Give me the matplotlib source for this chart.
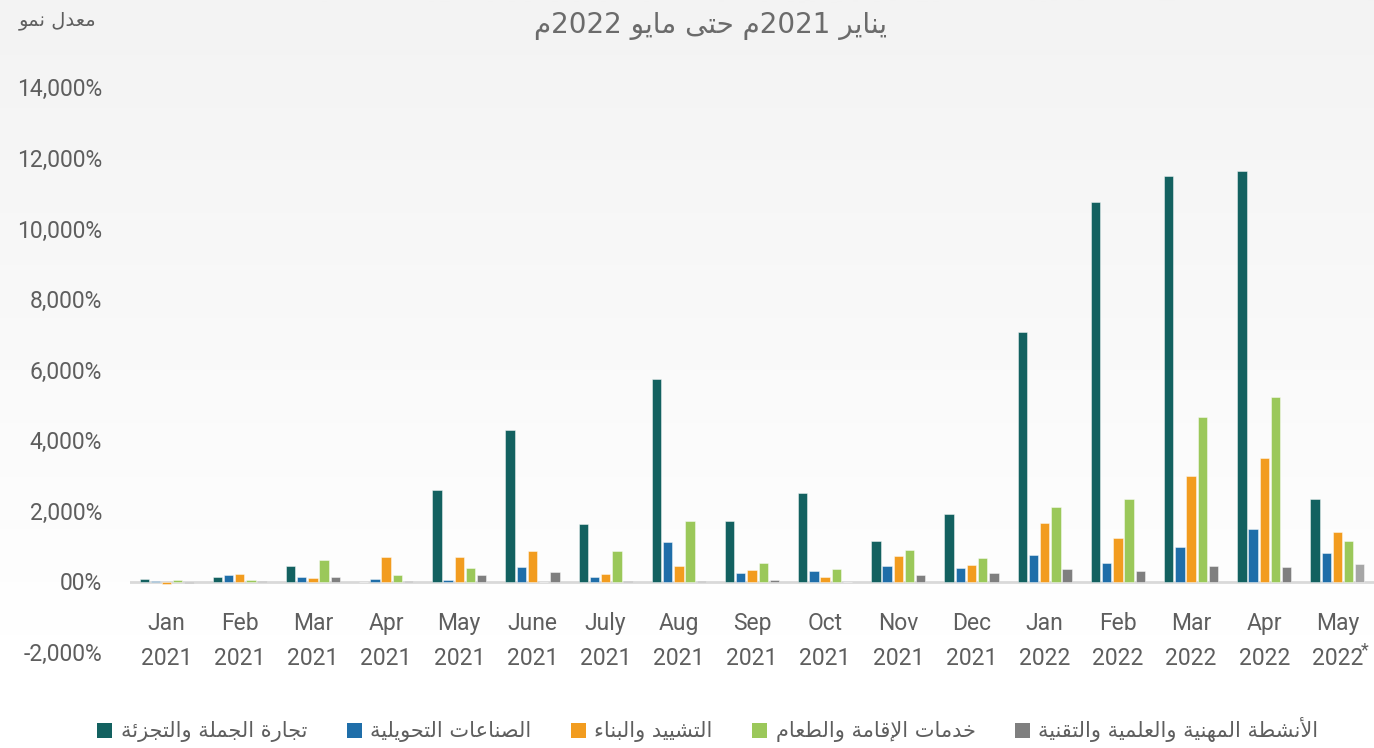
import re
import numpy as np
import matplotlib
matplotlib.use("Agg")
import matplotlib.pyplot as plt
from matplotlib.colors import LinearSegmentedColormap

# ---------------- data ----------------
months = ["Jan", "Feb", "Mar", "Apr", "May", "June", "July", "Aug", "Sep", "Oct",
          "Nov", "Dec", "Jan", "Feb", "Mar", "Apr", "May"]
years = ["2021"] * 12 + ["2022"] * 5

series_names = [
    "تجارة الجملة والتجزئة",
    "الصناعات التحويلية",
    "التشييد والبناء",
    "خدمات الإقامة والطعام",
    "الأنشطة المهنية والعلمية والتقنية",
]
trade = [70, 140, 450, 0, 2600, 4300, 1615, 5745, 1720, 2500, 1160, 1920, 7076, 10742, 11496, 11629, 2325]
manufacturing = [15, 190, 130, 75, 55, 400, 120, 1105, 235, 310, 425, 370, 737, 530, 985, 1500, 820]
construction = [-70, 220, 85, 690, 690, 870, 225, 435, 330, 140, 735, 480, 1670, 1220, 3000, 3485, 1410]
hospitality = [30, 50, 595, 190, 390, 0, 850, 1720, 510, 360, 887, 660, 2115, 2350, 4650, 5235, 1135]
professional = [-40, 10, 140, 20, 190, 255, 15, 15, 55, 0, 180, 245, 340, 310, 425, 415, 490]

title_text = "يناير 2021م حتى مايو 2022م"
ylabel_text = "معدل نمو"
ytick_vals = [-2000, 0, 2000, 4000, 6000, 8000, 10000, 12000, 14000]
ytick_labels = ["-2,000%", "00%", "2,000%", "4,000%", "6,000%", "8,000%", "10,000%", "12,000%", "14,000%"]

colors = ["#136160", "#1f6ea9", "#f29c1f", "#9bc85a", "#7f7f7f"]


# ---------------- minimal Arabic shaping (presentation forms + visual order) ----------------
def _build_table():
    two = {0x622, 0x623, 0x624, 0x625, 0x627, 0x629, 0x62F, 0x630, 0x631, 0x632, 0x648, 0x649}
    seq = list(range(0x621, 0x63B)) + list(range(0x641, 0x64B))
    base = 0xFE80
    table = {}
    for cp in seq:
        n = 1 if cp == 0x621 else (2 if cp in two else 4)
        table[chr(cp)] = (base, n)
        base += n
    return table


_T = _build_table()
_LA = {"آ": 0xFEF5, "أ": 0xFEF7, "إ": 0xFEF9, "ا": 0xFEFB}


def ar(text):
    chars = list(text)
    items = []
    i = 0
    while i < len(chars):
        c = chars[i]
        if c == "ل" and i + 1 < len(chars) and chars[i + 1] in _LA:
            items.append(("LA", chars[i + 1]))
            i += 2
        else:
            items.append(("C", c))
            i += 1

    def dual(it):
        return it[0] == "C" and it[1] in _T and _T[it[1]][1] == 4

    def joinable(it):
        return it[0] == "LA" or (it[1] in _T and _T[it[1]][1] >= 2)

    res = []
    for k, it in enumerate(items):
        prev = items[k - 1] if k > 0 else None
        nxt = items[k + 1] if k + 1 < len(items) else None
        cp = prev is not None and dual(prev) and joinable(it)
        if it[0] == "LA":
            res.append(chr(_LA[it[1]] + (1 if cp else 0)))
            continue
        c = it[1]
        if c not in _T:
            res.append(c)
            continue
        base, n = _T[c]
        if n == 1:
            res.append(chr(base))
        elif n == 2:
            res.append(chr(base + (1 if cp else 0)))
        else:
            cn = nxt is not None and joinable(nxt)
            f = 3 if (cp and cn) else 1 if cp else 2 if cn else 0
            res.append(chr(base + f))
    s = "".join(res)
    runs = re.findall(r"[0-9A-Za-z.,%*]+|[^0-9A-Za-z.,%*]+", s)
    return "".join(r if re.match(r"[0-9A-Za-z]", r) else r[::-1] for r in reversed(runs))


AR_FONT = ["DejaVu Sans"]
LAT_FONT = ["Roboto", "DejaVu Sans"]
TXT = "#5e5e5e"
FS = 16.5

# ---------------- figure ----------------
fig = plt.figure(figsize=(13.74, 7.48), dpi=100)

# background gradient
bg = fig.add_axes([0, 0, 1, 1], zorder=-10)
grad = np.linspace(0, 1, 400).reshape(-1, 1)
cmap = LinearSegmentedColormap.from_list("bgc", [(0, "#f3f3f3"), (0.85, "#ffffff"), (1, "#ffffff")])
bg.imshow(grad, aspect="auto", cmap=cmap, extent=[0, 1, 0, 1], origin="upper")
bg.set_axis_off()

ax = fig.add_axes([130 / 1374, 1 - 652.1 / 748, 1 - 130 / 1374, (652.1 - 87.3) / 748])
ax.set_facecolor("none")

x = np.arange(len(months))
step = 0.153
width = 0.128
data = [trade, manufacturing, construction, hospitality, professional]
handles = []
for i, (vals, col) in enumerate(zip(data, colors)):
    cols = [col] * len(vals)
    if i == 4:
        cols[-1] = "#a6a6a6"
    b = ax.bar(x + (i - 2) * step, vals, width=width, color=cols,
               edgecolor=(1, 1, 1, 0.45), linewidth=0.7, zorder=3)
    handles.append(b)

ax.axhline(0, color="#d9d9d9", linewidth=2.0, zorder=2)

ax.set_xlim(-0.5, len(months) - 0.5)
ax.set_ylim(-2000, 14000)
ax.set_yticks(ytick_vals)
ax.set_yticklabels(ytick_labels, family=LAT_FONT, fontsize=FS, color=TXT)
ax.tick_params(axis="y", length=0, pad=20)
ax.set_xticks([])
for s in ax.spines.values():
    s.set_visible(False)

# month labels
for xi, (m, yv) in enumerate(zip(months, years)):
    ax.text(xi, -1200, m, ha="center", va="center", family=LAT_FONT, fontsize=FS, color=TXT)
    ax.text(xi, -2180, yv, ha="center", va="center", family=LAT_FONT, fontsize=FS, color=TXT,
            clip_on=False)
ax.annotate("*", xy=(len(months) - 1, -2180), xytext=(17, 6), textcoords="offset points",
            ha="left", va="center", family=LAT_FONT, fontsize=13, color=TXT, annotation_clip=False)

# title and y label
fig.text(711 / 1374, 1 - 26 / 748, ar(title_text), ha="center", va="center",
         family=AR_FONT, fontsize=20, color="#6b6b6b")
fig.text(58 / 1374, 1 - 20 / 748, ar(ylabel_text), ha="center", va="center",
         family=AR_FONT, fontsize=14, color=TXT)

# legend
leg = fig.legend(handles, [ar(n) for n in series_names], loc="center", ncol=5,
                 bbox_to_anchor=(708 / 1374, 1 - 730 / 748), frameon=False,
                 handlelength=0.72, handleheight=0.72, handletextpad=0.4, columnspacing=1.9,
                 prop={"family": AR_FONT, "size": 15})
for t in leg.get_texts():
    t.set_color(TXT)
for h in leg.legend_handles:
    h.set_edgecolor("none")

fig.savefig("out.png", dpi=100)
